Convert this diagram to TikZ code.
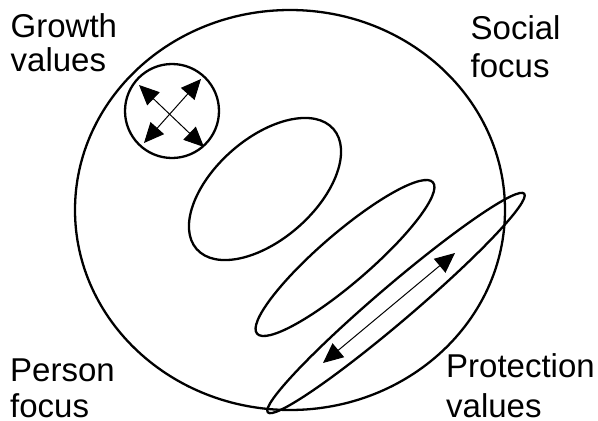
\documentclass[tikz,border=0pt]{standalone}
\usepackage{fontspec}
\setmainfont{Liberation Sans}
\usetikzlibrary{arrows.meta}
\begin{document}
\begin{tikzpicture}[x=1pt,y=-1pt,
  outline/.style={line width=2.3pt},
  dblarrow/.style={line width=1pt,
    {Triangle[length=20pt,width=18pt]}-{Triangle[length=20pt,width=18pt]}},
  lbl/.style={anchor=base west, inner sep=0pt, font=\fontsize{33}{37}\selectfont}]
\fill[white] (0,0) rectangle (598,421);
\useasboundingbox (0,0) rectangle (598,421);
% big circle
\draw[outline] (290,210) ellipse [x radius=215, y radius=200];
% growth circle
\draw[outline] (172,111) circle [radius=47];
% oval
\draw[outline, rotate around={41.3:(265,189)}] (265,189) ellipse [x radius=91, y radius=50.5];
% elongated ellipse
\draw[outline, rotate around={40.7:(345,258)}] (345,258) ellipse [x radius=116, y radius=25];
% thin ellipse
\draw[outline, rotate around={40.45:(396,303)}] (396,303) ellipse [x radius=168.5, y radius=18];
% arrows in growth circle
\coordinate (nw) at (139,85);
\coordinate (se) at (204,147);
\coordinate (ne) at (201,79);
\coordinate (sw) at (144,143);
\draw[dblarrow] (nw) -- (se);
\draw[dblarrow] (ne) -- (sw);
% arrow in protection ellipse
\coordinate (pt) at (455,253);
\coordinate (pb) at (323,363);
\draw[dblarrow] (pt) -- (pb);
% labels
\node[lbl] (g1) at (10.5,37) {Growth};
\node[lbl] (g2) at (10.5,71) {values};
\node[lbl] (s1) at (470.5,39) {Social};
\node[lbl] (s2) at (470.5,77) {focus};
\node[lbl] (p1) at (10,381) {Person};
\node[lbl] (p2) at (10,417) {focus};
\node[lbl] (r1) at (446,377) {Protection};
\node[lbl] (r2) at (446,417) {values};
\end{tikzpicture}
\end{document}
